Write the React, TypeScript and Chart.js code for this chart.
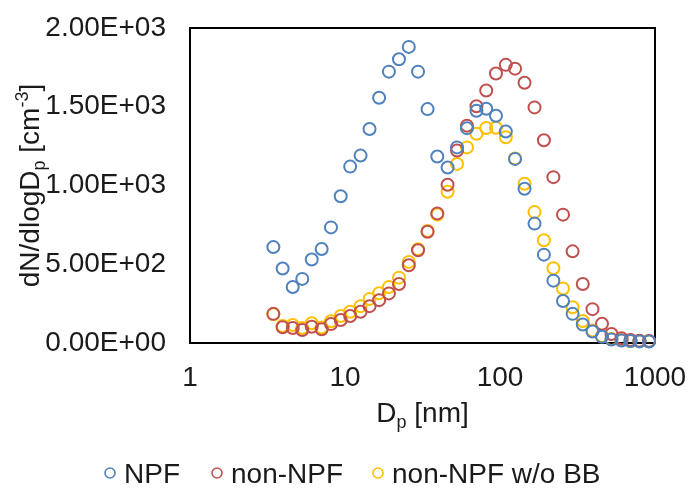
import React, { useEffect, useRef } from 'react';
import { Chart, registerables } from 'chart.js';

Chart.register(...registerables);

// ---- data ----
const diameters = [3.45, 3.96, 4.6, 5.3, 6.1, 7.07, 8.12, 9.38, 10.8, 12.6, 14.4, 16.6, 19.2, 22.3, 25.8, 29.6, 34.1, 39.4, 45.9, 52.8, 61.2, 70.5, 81.5, 94.2, 109, 125, 144, 167, 192, 221, 255, 294, 342, 395, 455, 524, 608, 695, 794, 915];
const npf = [609, 473, 356, 407, 530, 597, 734, 932, 1120, 1190, 1359, 1557, 1723, 1802, 1880, 1723, 1485, 1184, 1114, 1242, 1364, 1475, 1487, 1443, 1343, 1169, 979, 758, 561, 396, 267, 185, 117, 73, 40, 22, 16, 13, 10, 9];
const nonNpf = [185, 100, 95, 82, 103, 87, 120, 146, 171, 198, 234, 272, 315, 375, 494, 589, 706, 823, 1005, 1222, 1380, 1503, 1603, 1711, 1766, 1742, 1652, 1496, 1287, 1053, 815, 582, 375, 215, 122, 57, 30, 19, 15, 13];
const nonNpfWoBB = [182, 108, 114, 95, 125, 98, 138, 171, 198, 234, 280, 316, 355, 415, 515, 595, 711, 816, 960, 1137, 1242, 1329, 1365, 1367, 1306, 1171, 1011, 831, 652, 475, 346, 227, 140, 79, 44, 25, 18, 13, 12, 12];
const seriesLabels = ['NPF', 'non-NPF', 'non-NPF w/o BB'];
const xTickValues = [1, 10, 100, 1000];
const yTickValues = [0, 500, 1000, 1500, 2000];

const COLORS = ['#4F81BD', '#C0504D', '#FFC000'];
const FONT = "'Liberation Sans', Arial, sans-serif";
const TEXT = '#1a1a1a';
const FS = 28;
const FS_SMALL = 18;

function fmtSci(v: number): string {
  if (v === 0) return '0.00E+00';
  const e = Math.floor(Math.log10(Math.abs(v)));
  const m = v / Math.pow(10, e);
  const sign = e < 0 ? '-' : '+';
  const ae = Math.abs(e);
  return m.toFixed(2) + 'E' + sign + (ae < 10 ? '0' + ae : String(ae));
}

type Part = { t: string; size: number; dy: number };

function measureParts(ctx: CanvasRenderingContext2D, parts: Part[]) {
  let w = 0;
  for (const p of parts) {
    ctx.font = `${p.size}px ${FONT}`;
    w += ctx.measureText(p.t).width;
  }
  return w;
}

function drawParts(ctx: CanvasRenderingContext2D, parts: Part[], x: number, y: number) {
  let cx = x;
  ctx.textAlign = 'left';
  ctx.textBaseline = 'alphabetic';
  for (const p of parts) {
    ctx.font = `${p.size}px ${FONT}`;
    ctx.fillText(p.t, cx, y + p.dy);
    cx += ctx.measureText(p.t).width;
  }
}

function zeroPadding(s: any) {
  s.paddingTop = 0;
  s.paddingBottom = 0;
  s.paddingLeft = 0;
  s.paddingRight = 0;
}

const decorPlugin = {
  id: 'decor',
  beforeDatasetsDraw(chart: any) {
    const { ctx, chartArea: a } = chart;
    ctx.save();
    ctx.strokeStyle = '#000';
    ctx.lineWidth = 2;
    ctx.strokeRect(a.left, a.top, a.right - a.left, a.bottom - a.top);
    ctx.restore();
  },
  afterDraw(chart: any) {
    const { ctx, chartArea: a } = chart;
    ctx.save();
    ctx.fillStyle = TEXT;
    // x title
    const xParts: Part[] = [
      { t: 'D', size: FS, dy: 0 },
      { t: 'p', size: FS_SMALL, dy: 6 },
      { t: ' [nm]', size: FS, dy: 0 },
    ];
    const xw = measureParts(ctx, xParts);
    drawParts(ctx, xParts, (a.left + a.right) / 2 - xw / 2, 422);
    // y title
    const yParts: Part[] = [
      { t: 'dN/dlogD', size: FS, dy: 0 },
      { t: 'p', size: FS_SMALL, dy: 6 },
      { t: ' [cm', size: FS, dy: 0 },
      { t: '-3', size: FS_SMALL, dy: -11 },
      { t: ']', size: FS, dy: 0 },
    ];
    const yw = measureParts(ctx, yParts);
    ctx.save();
    ctx.translate(39, (a.top + a.bottom) / 2);
    ctx.rotate(-Math.PI / 2);
    drawParts(ctx, yParts, -yw / 2, 0);
    ctx.restore();
    // legend
    const markX = [110, 217, 378];
    const legY = 473;
    chart.data.datasets.forEach((ds: any, i: number) => {
      ctx.beginPath();
      ctx.arc(markX[i], legY, 5, 0, Math.PI * 2);
      ctx.strokeStyle = ds.borderColor;
      ctx.lineWidth = 1.6;
      ctx.stroke();
      ctx.font = `${FS}px ${FONT}`;
      ctx.textAlign = 'left';
      ctx.textBaseline = 'alphabetic';
      ctx.fillStyle = TEXT;
      ctx.fillText(ds.label, markX[i] + 14, legY + 10);
    });
    ctx.restore();
  },
};

export default function App() {
  const ref = useRef<HTMLCanvasElement | null>(null);
  useEffect(() => {
    if (!ref.current) return;
    const series = [npf, nonNpf, nonNpfWoBB];
    const chart = new Chart(ref.current, {
      type: 'scatter',
      data: {
        datasets: series.map((arr, i) => ({
          label: seriesLabels[i],
          data: diameters.map((d, k) => ({ x: d, y: arr[k] })),
          borderColor: COLORS[i],
          backgroundColor: 'rgba(0,0,0,0)',
          pointRadius: 6,
          pointHoverRadius: 6,
          pointBorderWidth: 2,
          showLine: false,
          clip: false,
        })),
      },
      options: {
        animation: false,
        responsive: false,
        devicePixelRatio: 1,
        layout: { padding: { top: 28, right: 34, bottom: 0, left: 0 } },
        plugins: { legend: { display: false }, tooltip: { enabled: false } },
        scales: {
          x: {
            type: 'logarithmic',
            min: 1,
            max: 1000,
            afterBuildTicks: (s: any) => {
              s.ticks = xTickValues.map((v) => ({ value: v }));
            },
            afterFit: (s: any) => {
              s.height = 146;
              zeroPadding(s);
            },
            grid: { display: false, drawTicks: false },
            border: { display: false },
            ticks: {
              autoSkip: false,
              maxRotation: 0,
              padding: 18,
              color: TEXT,
              font: { family: FONT, size: FS },
              callback: (v: any) => String(v),
            },
          },
          y: {
            type: 'linear',
            min: 0,
            max: 2000,
            afterBuildTicks: (s: any) => {
              s.ticks = yTickValues.map((v) => ({ value: v }));
            },
            afterFit: (s: any) => {
              s.width = 190;
              zeroPadding(s);
            },
            grid: { display: false, drawTicks: false },
            border: { display: false },
            ticks: {
              padding: 24,
              color: TEXT,
              font: { family: FONT, size: FS },
              callback: (v: any) => fmtSci(Number(v)),
            },
          },
        },
      },
      plugins: [decorPlugin],
    } as any);
    return () => chart.destroy();
  }, []);
  return (
    <div style={{ position: 'absolute', left: 0, top: 0, width: 689, height: 489, background: '#fff' }}>
      <canvas ref={ref} width={689} height={489} style={{ display: 'block' }} />
    </div>
  );
}
